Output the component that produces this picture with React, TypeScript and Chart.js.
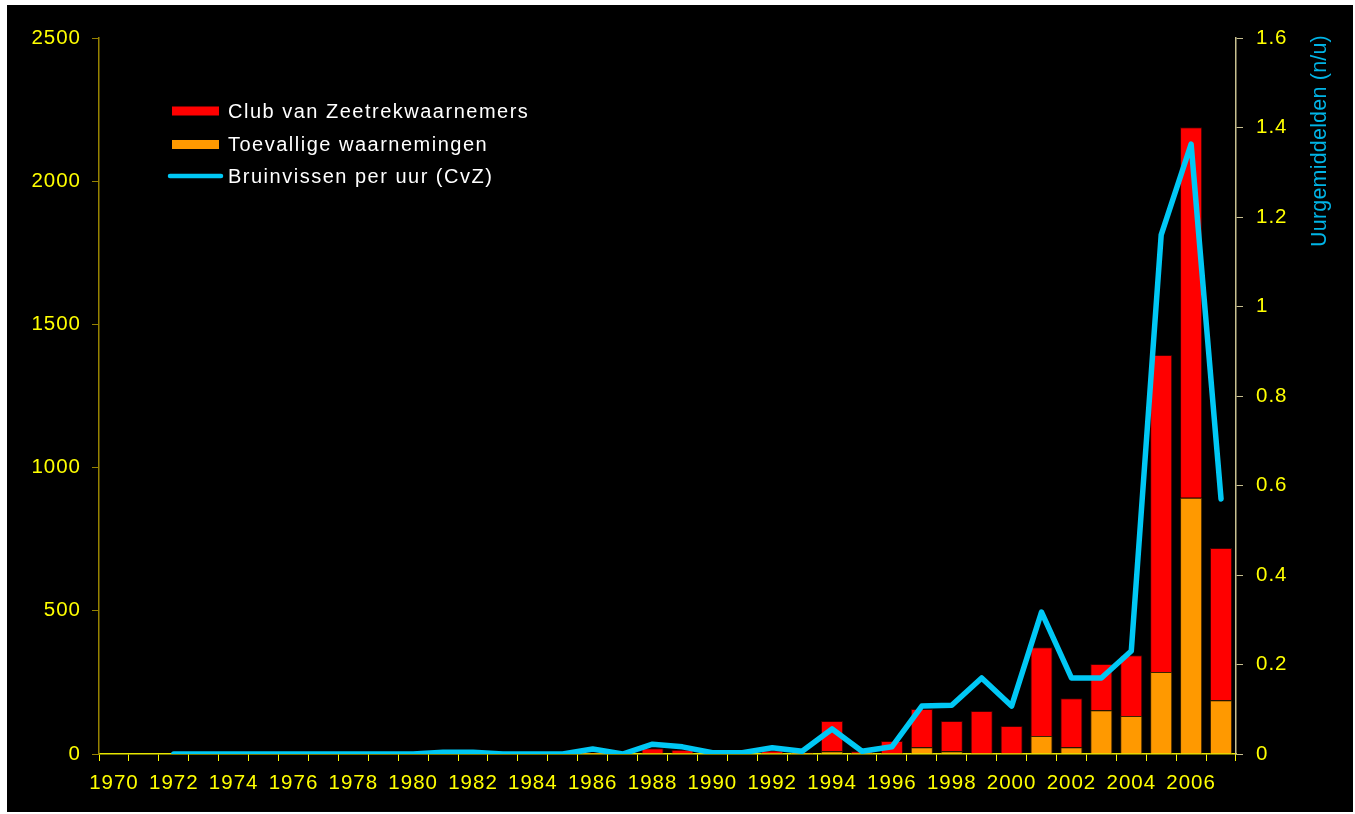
import React, { useEffect, useRef } from "react";
import { Chart, registerables } from "chart.js";

Chart.register(...registerables);

const years: string[] = [
  "1970", "1971", "1972", "1973", "1974", "1975", "1976", "1977", "1978", "1979",
  "1980", "1981", "1982", "1983", "1984", "1985", "1986", "1987", "1988", "1989",
  "1990", "1991", "1992", "1993", "1994", "1995", "1996", "1997", "1998", "1999",
  "2000", "2001", "2002", "2003", "2004", "2005", "2006", "2007",
];

// Toevallige waarnemingen (orange, bottom of stack)
const toevallige: number[] = [
  0, 0, 0, 0, 0, 0, 0, 0, 0, 0,
  0, 0, 0, 0, 0, 0, 0, 0, 0, 0,
  0, 0, 0, 0, 10, 0, 0, 24, 10, 0,
  0, 63, 24, 153, 133, 286, 895, 188,
];

// Club van Zeetrekwaarnemers (red, top of stack)
const club: number[] = [
  0, 0, 0, 0, 0, 0, 0, 0, 0, 0,
  0, 0, 0, 0, 0, 0, 5, 0, 20, 15,
  0, 0, 12, 5, 105, 10, 45, 133, 105, 150,
  98, 310, 171, 161, 212, 1107, 1293, 531,
];

// Bruinvissen per uur (CvZ), right axis
const perUur: (number | null)[] = [
  null, null, 0, 0, 0, 0, 0, 0, 0, 0,
  0, 0.004, 0.004, 0, 0, 0, 0.011, 0, 0.022, 0.016,
  0.003, 0.003, 0.014, 0.006, 0.056, 0.006, 0.016, 0.107, 0.109, 0.17,
  0.107, 0.317, 0.17, 0.17, 0.23, 1.16, 1.363, 0.57,
];

const leftTicks: number[] = [0, 500, 1000, 1500, 2000, 2500];
const rightTicks: number[] = [0, 0.2, 0.4, 0.6, 0.8, 1, 1.2, 1.4, 1.6];

const FONT = '"Liberation Sans", Arial, sans-serif';
const RED = "#ff0000";
const ORANGE = "#ff9900";
const CYAN = "#00c8f5";
const YELLOW = "#ffff00";
const TICK_SIZE = 20.5;

const legendPlugin = {
  id: "customLegend",
  afterDraw(chart: any) {
    const ctx = chart.ctx;
    ctx.save();
    ctx.font = `20px ${FONT}`;
    (ctx as any).letterSpacing = "1.5px";
    ctx.textBaseline = "middle";
    ctx.textAlign = "left";
    const ds = chart.data.datasets;
    const rows = [
      { d: ds[1], y: 111, kind: "box" },
      { d: ds[0], y: 144.5, kind: "box" },
      { d: ds[2], y: 176, kind: "line" },
    ];
    rows.forEach((r) => {
      if (r.kind === "box") {
        ctx.fillStyle = r.d.backgroundColor;
        ctx.fillRect(172, r.y - 4.5, 47, 9);
      } else {
        ctx.strokeStyle = r.d.borderColor;
        ctx.lineWidth = 4.5;
        ctx.lineCap = "round";
        ctx.beginPath();
        ctx.moveTo(170, r.y);
        ctx.lineTo(221, r.y);
        ctx.stroke();
      }
      ctx.fillStyle = "#ffffff";
      ctx.fillText(r.d.label, 228, r.y + 1);
    });
    ctx.restore();
  },
};

const titlePlugin = {
  id: "rightTitle",
  afterDraw(chart: any) {
    const ctx = chart.ctx;
    ctx.save();
    ctx.translate(1320, 141);
    ctx.rotate(-Math.PI / 2);
    ctx.font = `21.5px ${FONT}`;
    (ctx as any).letterSpacing = "0.2px";
    ctx.fillStyle = "#00b4e6";
    ctx.textAlign = "center";
    ctx.textBaseline = "middle";
    ctx.fillText("Uurgemiddelden (n/u)", 0, 0);
    ctx.restore();
  },
};

const spacingPlugin = {
  id: "tickSpacing",
  beforeDraw(chart: any) {
    (chart.ctx as any).letterSpacing = "1px";
  },
};

export default function App() {
  const canvasRef = useRef<HTMLCanvasElement | null>(null);

  useEffect(() => {
    const canvas = canvasRef.current;
    if (!canvas) return;
    const chart = new Chart(canvas, {
      type: "bar",
      data: {
        labels: years,
        datasets: [
          {
            type: "bar",
            label: "Toevallige waarnemingen",
            data: toevallige,
            backgroundColor: ORANGE,
            borderColor: "#3a2400",
            borderWidth: 1,
            yAxisID: "y",
            stack: "s",
            categoryPercentage: 1,
            barPercentage: 0.74,
          },
          {
            type: "bar",
            label: "Club van Zeetrekwaarnemers",
            data: club,
            backgroundColor: RED,
            borderColor: "#3a0000",
            borderWidth: 1,
            yAxisID: "y",
            stack: "s",
            categoryPercentage: 1,
            barPercentage: 0.74,
          },
          {
            type: "line",
            label: "Bruinvissen per uur (CvZ)",
            data: perUur,
            borderColor: CYAN,
            backgroundColor: CYAN,
            borderWidth: 5.5,
            borderCapStyle: "round",
            borderJoinStyle: "round",
            pointRadius: 0,
            tension: 0,
            yAxisID: "y1",
            order: -1,
          } as any,
        ],
      },
      options: {
        responsive: false,
        animation: false,
        locale: "en-US",
        layout: { padding: { top: 38, left: 0, right: 0, bottom: 0 } },
        plugins: {
          legend: { display: false },
          tooltip: { enabled: false },
          title: { display: false },
        },
        scales: {
          x: {
            stacked: true,
            offset: true,
            afterFit(scale: any) {
              scale.height = 60;
            },
            grid: {
              drawOnChartArea: false,
              drawTicks: true,
              tickLength: 7,
              tickColor: YELLOW,
              offset: true,
            },
            border: { color: "#e6e600", width: 1.5 },
            ticks: {
              color: YELLOW,
              font: { family: FONT, size: TICK_SIZE },
              padding: 10,
              autoSkip: false,
              maxRotation: 0,
              minRotation: 0,
              callback: (_v: any, i: number) => (i % 2 === 0 ? years[i] : ""),
            },
          },
          y: {
            position: "left",
            stacked: true,
            min: 0,
            max: 2500,
            afterFit(scale: any) {
              scale.width = 99;
            },
            afterBuildTicks(scale: any) {
              scale.ticks = leftTicks.map((v) => ({ value: v }));
            },
            grid: {
              drawOnChartArea: false,
              drawTicks: true,
              tickLength: 7,
              tickColor: "#968200",
            },
            border: { color: "#968200", width: 1.5 },
            ticks: {
              color: YELLOW,
              font: { family: FONT, size: TICK_SIZE },
              padding: 11,
              callback: (v: any) => String(v),
            },
          },
          y1: {
            position: "right",
            stacked: false,
            min: 0,
            max: 1.6,
            afterFit(scale: any) {
              scale.width = 119;
            },
            afterBuildTicks(scale: any) {
              scale.ticks = rightTicks.map((v) => ({ value: v }));
            },
            grid: {
              drawOnChartArea: false,
              drawTicks: true,
              tickLength: 7,
              tickColor: "#c8c090",
            },
            border: { color: "#c8c090", width: 1.5 },
            ticks: {
              color: YELLOW,
              font: { family: FONT, size: TICK_SIZE },
              padding: 13,
              callback: (v: any) => String(Number(Number(v).toFixed(1))),
            },
          },
        },
      } as any,
      plugins: [spacingPlugin, legendPlugin, titlePlugin],
    });
    return () => chart.destroy();
  }, []);

  return (
    <div
      style={{
        position: "fixed",
        left: 0,
        top: 0,
        width: 1355,
        height: 814,
        background: "#ffffff",
        overflow: "hidden",
      }}
    >
      <div
        style={{
          position: "absolute",
          left: 7,
          top: 5,
          width: 1346,
          height: 807,
          background: "#000000",
        }}
      />
      <canvas
        ref={canvasRef}
        width={1355}
        height={814}
        style={{ position: "absolute", left: 0, top: 0, display: "block" }}
      />
    </div>
  );
}
